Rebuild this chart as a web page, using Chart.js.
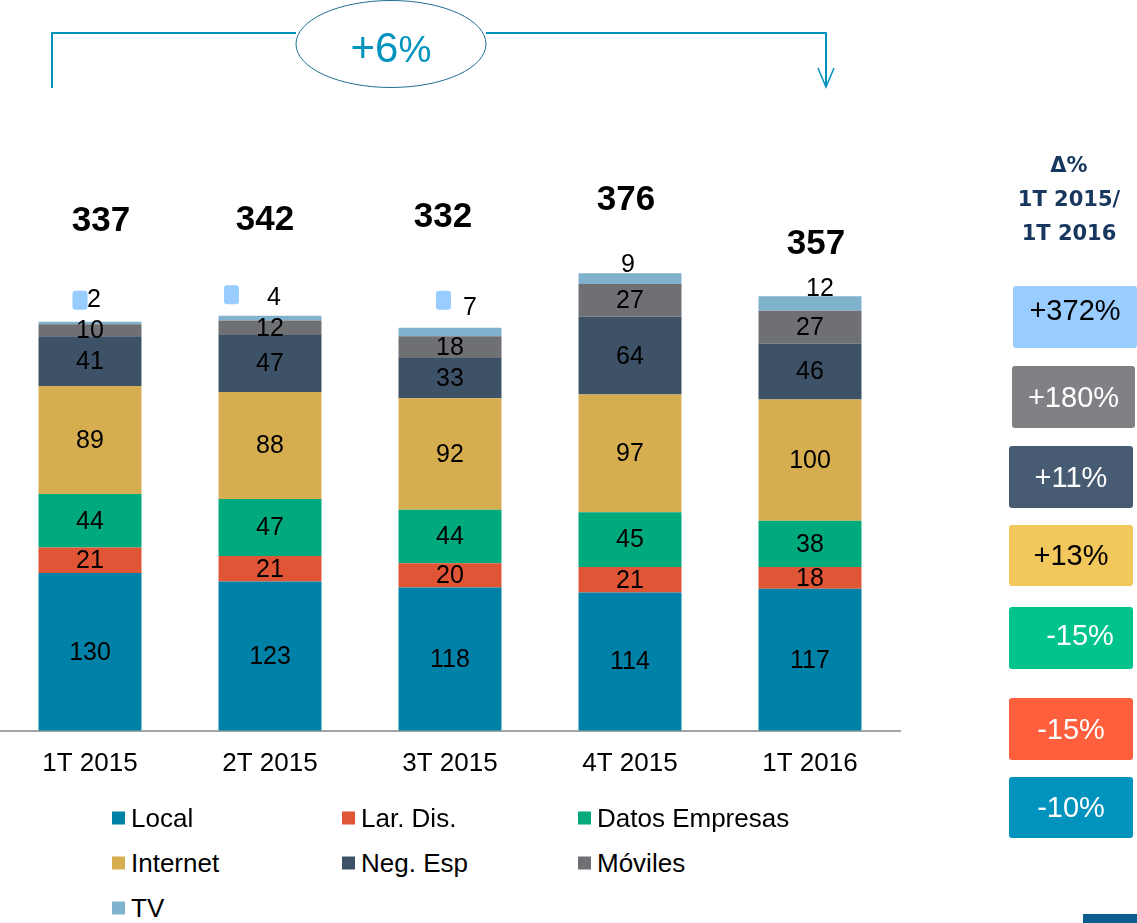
<!DOCTYPE html>
<html>
<head>
<meta charset="utf-8">
<script src="https://cdn.jsdelivr.net/npm/chart.js@4.4.1/dist/chart.umd.min.js"></script>
<style>
  html, body { margin: 0; padding: 0; background: #fff; }
  #wrap { position: relative; width: 1137px; height: 923px; overflow: hidden; font-family: "Liberation Sans", Arial, sans-serif; }
  #c { position: absolute; left: 0; top: 0; }
  #anno { position: absolute; left: 0; top: 0; }
  .lg { position: absolute; display: flex; align-items: center; font-size: 26px; color: #000; white-space: nowrap; transform: translateY(-50%); }
  .lg i { display: inline-block; width: 13px; height: 13px; margin-right: 6px; }
  #hdr { position: absolute; left: 1000px; width: 138px; top: 148px; text-align: center; font-family: "DejaVu Sans", sans-serif; font-weight: bold; font-size: 21px; line-height: 34px; color: #17375E; }
  .bx { position: absolute; display: flex; align-items: center; justify-content: center; font-size: 29px; border-radius: 3px; box-sizing: border-box; }
  #corner { position: absolute; left: 1083px; top: 914px; width: 54px; height: 9px; background: #0B5E8E; }
</style>
</head>
<body>
<div id="wrap">
  <canvas id="c" width="1137" height="817"></canvas>
  <svg id="anno" width="1137" height="100">
    <polyline points="52,88 52,33 296,33" fill="none" stroke="#0093BE" stroke-width="2"/>
    <polyline points="486,33 826,33 826,87" fill="none" stroke="#0093BE" stroke-width="2"/>
    <polyline points="818,68 826,87 834,68" fill="none" stroke="#0093BE" stroke-width="1.5"/>
    <ellipse cx="391" cy="44" rx="95" ry="43.5" fill="#fff" stroke="#1F6F8F" stroke-width="1"/>
    <text id="headline" x="391" y="62" text-anchor="middle" fill="#0093BE" font-family="Liberation Sans, Arial, sans-serif"></text>
  </svg>
  <div id="legend"></div>
  <div id="hdr">Δ%<br>1T 2015/<br>1T 2016</div>
  <div id="boxes"></div>
  <div id="corner"></div>
</div>
<script>
// ---- data ----
const categories = ['1T 2015', '2T 2015', '3T 2015', '4T 2015', '1T 2016'];
const seriesNames = ['Local', 'Lar. Dis.', 'Datos Empresas', 'Internet', 'Neg. Esp', 'Móviles', 'TV'];
const local    = [130, 123, 118, 114, 117];
const larDis   = [21, 21, 20, 21, 18];
const datos    = [44, 47, 44, 45, 38];
const internet = [89, 88, 92, 97, 100];
const negEsp   = [41, 47, 33, 64, 46];
const moviles  = [10, 12, 18, 27, 27];
const tv       = [2, 4, 7, 9, 12];
const totals   = [337, 342, 332, 376, 357];
const headlineText = ['+6', '%'];
const deltaLabels = ['+372%', '+180%', '+11%', '+13%', '-15%', '-15%', '-10%'];

// ---- styles / layout ----
const seriesColors = ['#0082A8', '#E05536', '#00AA7C', '#D6AE50', '#3D5267', '#6F7074', '#80B2CD'];
const totalOffset = [[11, -100], [-5, -95], [-7, -110], [-4, -73], [6, -52]];
const tvLabelOffset = [[4, -22], [4, -18], [20, -20], [-2, -8], [10, -7]];
const tvMarkerOffset = [[-10, -21.5], [-38.5, -21], [-6.5, -27.5], null, null];
const boxStyles = [
  { x: 1013, y: 286, w: 124, h: 62, bg: '#99CCFF', fg: '#000', pad: '0 0 14px 0' },
  { x: 1012, y: 366, w: 123, h: 62, bg: '#808185', fg: '#fff', pad: '0' },
  { x: 1009, y: 446, w: 124, h: 62, bg: '#475B73', fg: '#fff', pad: '0' },
  { x: 1009, y: 525, w: 124, h: 61, bg: '#F2C75C', fg: '#000', pad: '0' },
  { x: 1009, y: 607, w: 124, h: 62, bg: '#00C48C', fg: '#fff', pad: '0 0 6px 18px' },
  { x: 1009, y: 698, w: 124, h: 62, bg: '#FF5F3C', fg: '#fff', pad: '0' },
  { x: 1009, y: 777, w: 124, h: 61, bg: '#0093BE', fg: '#fff', pad: '0' }
];
const legendCols = [112, 342, 578];
const legendRows = [818, 863, 908];

// headline
const hl = document.getElementById('headline');
hl.innerHTML = '<tspan font-size="42">' + headlineText[0] + '</tspan><tspan font-size="37">' + headlineText[1] + '</tspan>';

// right panel boxes
const boxes = document.getElementById('boxes');
deltaLabels.forEach((t, i) => {
  const s = boxStyles[i];
  const d = document.createElement('div');
  d.className = 'bx';
  Object.assign(d.style, { left: s.x + 'px', top: s.y + 'px', width: s.w + 'px', height: s.h + 'px', background: s.bg, color: s.fg, padding: s.pad });
  d.textContent = t;
  boxes.appendChild(d);
});

// legend
const leg = document.getElementById('legend');
seriesNames.forEach((n, i) => {
  const d = document.createElement('div');
  d.className = 'lg';
  d.style.left = legendCols[i % 3] + 'px';
  d.style.top = legendRows[Math.floor(i / 3)] + 'px';
  d.innerHTML = '<i style="background:' + seriesColors[i] + '"></i>' + n;
  leg.appendChild(d);
});

const seriesData = [local, larDis, datos, internet, negEsp, moviles, tv];

const labelPlugin = {
  id: 'labels',
  afterDatasetsDraw(chart) {
    const ctx = chart.ctx;
    ctx.save();
    ctx.textAlign = 'center';
    ctx.textBaseline = 'middle';
    ctx.fillStyle = '#000';
    ctx.font = '25px "Liberation Sans", Arial, sans-serif';
    const n = chart.data.datasets.length;
    chart.data.datasets.forEach((ds, di) => {
      const meta = chart.getDatasetMeta(di);
      meta.data.forEach((bar, j) => {
        const v = ds.data[j];
        if (di < n - 1) {
          ctx.fillText(String(v), bar.x, (bar.y + bar.base) / 2 + 1);
        } else {
          const o = tvLabelOffset[j];
          ctx.fillText(String(v), bar.x + o[0], bar.y + o[1]);
          const m = tvMarkerOffset[j];
          if (m) {
            ctx.fillStyle = '#99CCFF';
            ctx.beginPath();
            ctx.roundRect(bar.x + m[0] - 7.5, bar.y + m[1] - 9.5, 15, 19, 3);
            ctx.fill();
            ctx.fillStyle = '#000';
          }
        }
      });
    });
    // totals
    const topMeta = chart.getDatasetMeta(n - 1);
    ctx.font = 'bold 35px "Liberation Sans", Arial, sans-serif';
    totals.forEach((t, j) => {
      const bar = topMeta.data[j];
      ctx.fillText(String(t), bar.x + totalOffset[j][0], bar.y + totalOffset[j][1]);
    });
    ctx.restore();
  }
};

new Chart(document.getElementById('c'), {
  type: 'bar',
  data: {
    labels: categories,
    datasets: seriesNames.map((name, i) => ({
      label: name,
      data: seriesData[i],
      backgroundColor: seriesColors[i],
      borderWidth: 0,
      categoryPercentage: 1,
      barPercentage: 0.572
    }))
  },
  options: {
    responsive: false,
    animation: false,
    layout: { padding: { left: 0, right: 237, top: 0, bottom: 21 } },
    plugins: { legend: { display: false }, tooltip: { enabled: false } },
    scales: {
      x: {
        stacked: true,
        grid: { display: false, drawTicks: false },
        border: { display: true, color: '#A6A6A6', width: 2 },
        ticks: { color: '#000', padding: 17, font: { size: 26, family: '"Liberation Sans", Arial, sans-serif' } }
      },
      y: {
        stacked: true,
        display: false,
        min: 0,
        max: 602
      }
    }
  },
  plugins: [labelPlugin]
});
</script>
</body>
</html>
